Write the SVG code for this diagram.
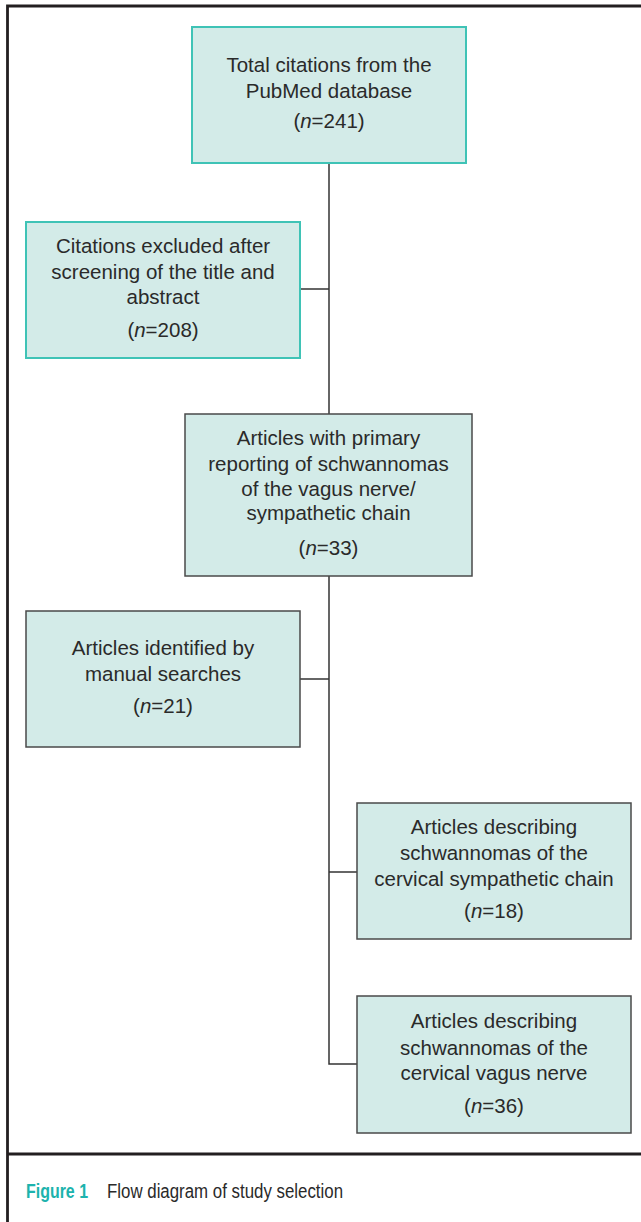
<svg xmlns="http://www.w3.org/2000/svg" width="641" height="1222" viewBox="0 0 641 1222">
<style>
.box{fill:#d3ebe8;stroke:#4a4a4a;stroke-width:1.5}
.tb{stroke:#3fc3b6;stroke-width:2}
.t{font-family:"Liberation Sans",Arial,sans-serif;font-size:20.5px;fill:#2a2a2a;text-anchor:middle}
.it{font-style:italic}
.ln{stroke:#333;stroke-width:1.5;fill:none}
.fr{stroke:#231f20;stroke-width:2.8;fill:none}
.cap{font-family:"Liberation Sans",Arial,sans-serif;font-size:19.5px}
</style>
<rect width="641" height="1222" fill="#fff"/>
<g id="frame">
<path class="fr" d="M641,6 H7.5 V1222"/>
<path class="fr" d="M7.5,1154 H641"/>
</g>
<g id="connectors">
<path class="ln" d="M329,163 V414"/>
<path class="ln" d="M329,576 V1064 H357"/>
<path class="ln" d="M300,289 H329"/>
<path class="ln" d="M300,679 H329"/>
<path class="ln" d="M329,872 H357"/>
</g>
<g id="n1">
<rect class="box tb" x="192" y="27" width="274" height="136"/>
<text class="t" x="329" y="72">Total citations from the</text>
<text class="t" x="329" y="98">PubMed database</text>
<text class="t" x="329" y="128">(<tspan class="it">n</tspan>=241)</text>
</g>
<g id="n2">
<rect class="box tb" x="26" y="222" width="274" height="136"/>
<text class="t" x="163" y="253">Citations excluded after</text>
<text class="t" x="163" y="279">screening of the title and</text>
<text class="t" x="163" y="304">abstract</text>
<text class="t" x="163" y="337">(<tspan class="it">n</tspan>=208)</text>
</g>
<g id="n3">
<rect class="box" x="185" y="414" width="287" height="162"/>
<text class="t" x="328.5" y="445">Articles with primary</text>
<text class="t" x="328.5" y="471">reporting of schwannomas</text>
<text class="t" x="328.5" y="496">of the vagus nerve/</text>
<text class="t" x="328.5" y="520">sympathetic chain</text>
<text class="t" x="328.5" y="555">(<tspan class="it">n</tspan>=33)</text>
</g>
<g id="n4">
<rect class="box" x="26" y="611" width="274" height="136"/>
<text class="t" x="163" y="655">Articles identified by</text>
<text class="t" x="163" y="681">manual searches</text>
<text class="t" x="163" y="713">(<tspan class="it">n</tspan>=21)</text>
</g>
<g id="n5">
<rect class="box" x="357" y="803" width="274" height="136"/>
<text class="t" x="494" y="834">Articles describing</text>
<text class="t" x="494" y="860">schwannomas of the</text>
<text class="t" x="494" y="886">cervical sympathetic chain</text>
<text class="t" x="494" y="918">(<tspan class="it">n</tspan>=18)</text>
</g>
<g id="n6">
<rect class="box" x="357" y="996" width="274" height="137"/>
<text class="t" x="494" y="1028">Articles describing</text>
<text class="t" x="494" y="1055">schwannomas of the</text>
<text class="t" x="494" y="1080">cervical vagus nerve</text>
<text class="t" x="494" y="1113">(<tspan class="it">n</tspan>=36)</text>
</g>
<g id="caption">
<text class="cap" x="26" y="1198" font-weight="bold" fill="#1db3ad" textLength="62" lengthAdjust="spacingAndGlyphs">Figure 1</text>
<text class="cap" x="107" y="1198" fill="#2a2a2a" textLength="236" lengthAdjust="spacingAndGlyphs">Flow diagram of study selection</text>
</g>
</svg>
